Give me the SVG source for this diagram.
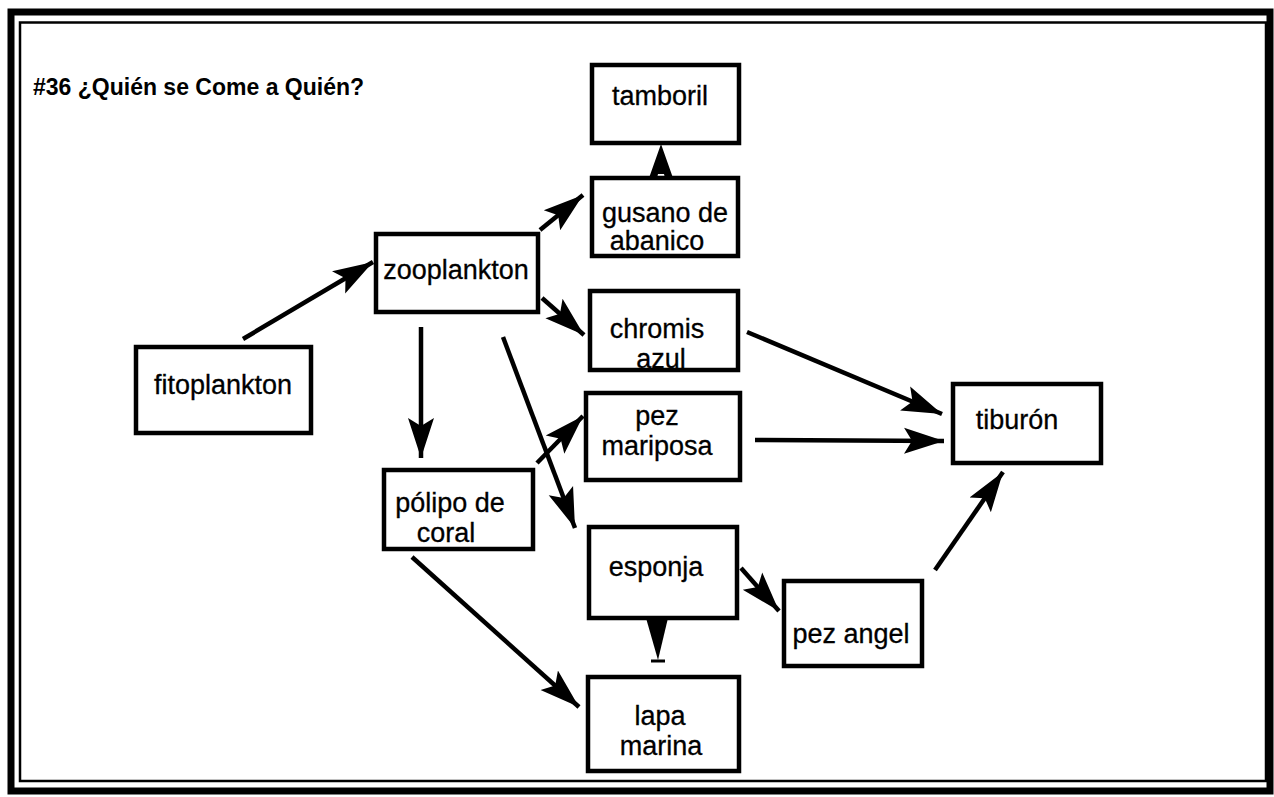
<svg xmlns="http://www.w3.org/2000/svg" width="1274" height="797" viewBox="0 0 1274 797">
<style>
.box{fill:#fff;stroke:#000;stroke-width:4.5}
.lbl{font-family:"Liberation Sans",Arial,sans-serif;font-size:27px;fill:#000;text-anchor:middle;stroke:#000;stroke-width:0.3}
.title{font-family:"Liberation Sans",Arial,sans-serif;font-size:23px;font-weight:bold;fill:#000}
.edge{stroke:#000;stroke-width:4.5;fill:none;marker-end:url(#ah)}
.head{fill:#000}
</style>
<defs>
<marker id="ah" markerUnits="userSpaceOnUse" markerWidth="44" markerHeight="30" refX="40" refY="14" orient="auto">
<path d="M0,1 L40,14 L0,27 L8,14 Z" fill="#000"/>
</marker>
</defs>
<rect x="0" y="0" width="1274" height="797" fill="#fff"/>
<g id="frame">
<rect x="11" y="12" width="1259" height="779" fill="none" stroke="#000" stroke-width="7"/>
<rect x="20" y="22.5" width="1246" height="758.5" fill="none" stroke="#000" stroke-width="2.5"/>
</g>
<g id="title"><text class="title" x="33" y="95">#36 ¿Quién se Come a Quién?</text></g>
<g id="connectors">
<line class="edge" x1="243" y1="339" x2="373" y2="262"/>
<line class="edge" x1="540" y1="230" x2="583" y2="195"/>
<line class="edge" x1="542" y1="298" x2="584" y2="335"/>
<line class="edge" x1="421" y1="327" x2="421" y2="458"/>
<line class="edge" x1="503" y1="337" x2="575" y2="528"/>
<line class="edge" x1="537" y1="463" x2="583" y2="416"/>
<line class="edge" x1="747" y1="332" x2="942" y2="414"/>
<line class="edge" x1="755" y1="440" x2="944" y2="441"/>
<line class="edge" x1="412" y1="557" x2="579" y2="707"/>
<line class="edge" x1="741" y1="568" x2="779" y2="611"/>
<line class="edge" x1="935" y1="570" x2="1003" y2="472"/>
<polygon class="head" points="661,144 673,178 665,178 664,174 658,174 657,178 649,178"/>
<polygon class="head" points="646,618 668,618 658,660"/>
<line x1="651" y1="661" x2="665" y2="661" stroke="#000" stroke-width="3"/>
</g>
<g id="tamboril"><rect class="box" x="592" y="65" width="147" height="78"/><text class="lbl" x="660" y="105">tamboril</text></g>
<g id="gusano"><rect class="box" x="592" y="178" width="146" height="78"/><text class="lbl" x="665" y="222">gusano de</text><text class="lbl" x="657" y="250">abanico</text></g>
<g id="zooplankton"><rect class="box" x="376" y="234" width="162" height="78"/><text class="lbl" x="456" y="279">zooplankton</text></g>
<g id="fitoplankton"><rect class="box" x="136" y="347" width="175" height="86"/><text class="lbl" x="223" y="394">fitoplankton</text></g>
<g id="chromis"><rect class="box" x="590" y="291" width="148" height="79"/><text class="lbl" x="657" y="338">chromis</text><text class="lbl" x="661" y="368">azul</text></g>
<g id="mariposa"><rect class="box" x="586" y="393" width="154" height="87"/><text class="lbl" x="657" y="425">pez</text><text class="lbl" x="657" y="455">mariposa</text></g>
<g id="tiburon"><rect class="box" x="953" y="384" width="148" height="79"/><text class="lbl" x="1017" y="429">tiburón</text></g>
<g id="polipo"><rect class="box" x="384" y="470" width="149" height="79"/><text class="lbl" x="450" y="512">pólipo de</text><text class="lbl" x="446" y="542">coral</text></g>
<g id="esponja"><rect class="box" x="589" y="527" width="148" height="91"/><text class="lbl" x="656" y="576">esponja</text></g>
<g id="pezangel"><rect class="box" x="784" y="581" width="138" height="85"/><text class="lbl" x="851" y="643">pez angel</text></g>
<g id="lapa"><rect class="box" x="588" y="677" width="151" height="94"/><text class="lbl" x="660" y="725">lapa</text><text class="lbl" x="661" y="755">marina</text></g>
</svg>
